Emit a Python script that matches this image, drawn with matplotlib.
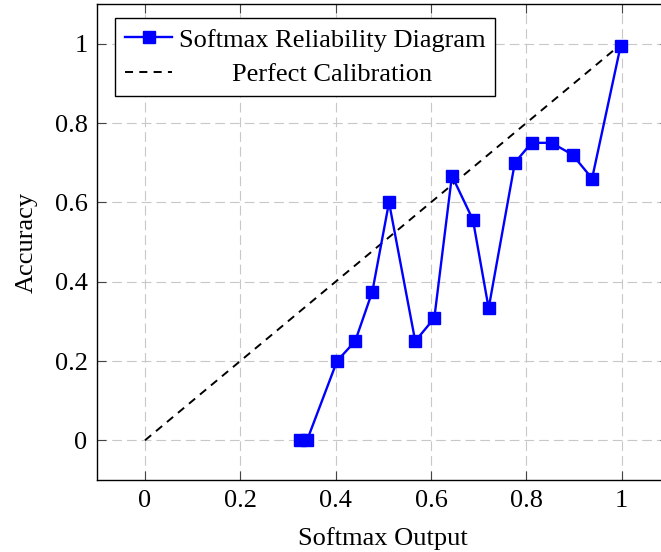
import numpy as np
import matplotlib
matplotlib.use("Agg")
import matplotlib.pyplot as plt

# reliability diagram values
conf = [0.326, 0.340, 0.403, 0.441, 0.477, 0.512, 0.567, 0.607, 0.644,
        0.688, 0.721, 0.776, 0.811, 0.853, 0.897, 0.938, 0.998]
acc = [0.0, 0.0, 0.2, 0.25, 0.375, 0.6, 0.25, 0.308, 0.667,
       0.556, 0.333, 0.7, 0.75, 0.75, 0.72, 0.66, 0.995]
ideal = [0, 1]
ticks = [0, 0.2, 0.4, 0.6, 0.8, 1]
tick_labels = ["0", "0.2", "0.4", "0.6", "0.8", "1"]

plt.rcParams['font.family'] = ['Liberation Serif', 'DejaVu Serif']
plt.rcParams['font.size'] = 19
plt.rcParams['lines.scale_dashes'] = False

fig = plt.figure(figsize=(6.61, 5.52), dpi=100)
ax = fig.add_axes([97.3/661, 1-480/552, (669.3-97.3)/661, (480-4)/552])

ax.plot(conf, acc, '-s', color='#0000ff', lw=1.7, ms=8.6, mec='#0000ff',
        label='Softmax Reliability Diagram', zorder=3)
ax.plot(ideal, ideal, color='black', lw=1.4, ls=(0, (5.8, 4.5)),
        label='Perfect Calibration', zorder=2)

ax.set_xlim(-0.1, 1.1)
ax.set_ylim(-0.1, 1.1)
ax.set_xticks(ticks)
ax.set_xticklabels(tick_labels)
ax.set_yticks(ticks)
ax.set_yticklabels(tick_labels)
ax.tick_params(direction='in', length=6.5, width=0.8, color='#444444',
               top=True, right=True, pad=7)
ax.grid(True, color='#c8c8c8', lw=0.8, ls=(0, (7, 3.6)))
ax.set_axisbelow(True)
for s in ax.spines.values():
    s.set_linewidth(1.0)

ax.set_xlabel('Softmax Output', labelpad=11)
ax.set_ylabel('Accuracy', labelpad=12)

leg = ax.legend(loc='upper left', bbox_to_anchor=(115/661, 1-18/552),
                bbox_transform=fig.transFigure, borderaxespad=0,
                fancybox=False, framealpha=1, edgecolor='black',
                handlelength=1.78, handletextpad=0.25, borderpad=0.38,
                labelspacing=0.43)
leg.get_frame().set_linewidth(1.0)

# center the legend texts like pgfplots does
fig.canvas.draw()
r = fig.canvas.get_renderer()
texts = leg.get_texts()
widths = [t.get_window_extent(r).width for t in texts]
wmax = max(widths)
for t, w in zip(texts, widths):
    t.set_position(((wmax - w) / 2, 0))

fig.savefig('out.png', dpi=100)
